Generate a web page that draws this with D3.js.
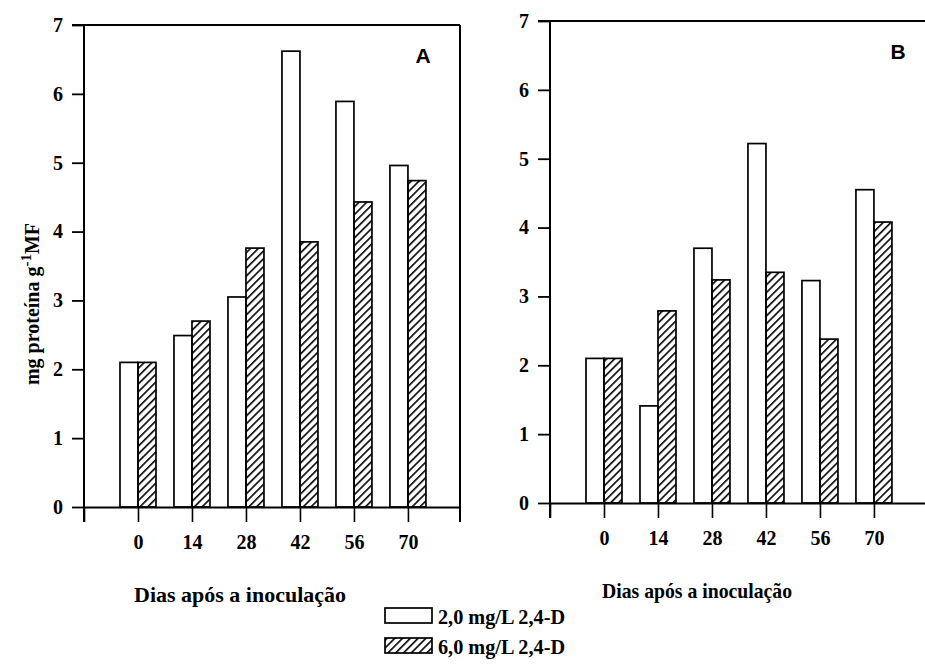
<!DOCTYPE html>
<html>
<head>
<meta charset="utf-8">
<script src="https://cdn.jsdelivr.net/npm/d3@7"></script>
<style>
  body { margin: 0; background: #fff; }
</style>
</head>
<body>
<div id="chart"></div>
<script>
// data
var days = [0, 14, 28, 42, 56, 70];
var seriesNames = ["2,0 mg/L 2,4-D", "6,0 mg/L 2,4-D"];
var panelA_low = [2.1, 2.49, 3.05, 6.62, 5.89, 4.96];
var panelA_high = [2.1, 2.7, 3.76, 3.85, 4.43, 4.74];
var panelB_low = [2.1, 1.41, 3.7, 5.22, 3.23, 4.55];
var panelB_high = [2.1, 2.79, 3.24, 3.35, 2.38, 4.08];
var yTicks = [0, 1, 2, 3, 4, 5, 6, 7];

var serif = "'Liberation Serif', 'DejaVu Serif', serif";

var svg = d3.select("#chart").append("svg")
  .attr("width", 925)
  .attr("height", 668);

// hatch pattern for the 6,0 mg/L bars
var defs = svg.append("defs");
defs.append("pattern")
  .attr("id", "hatch")
  .attr("patternUnits", "userSpaceOnUse")
  .attr("width", 5.5)
  .attr("height", 5.5)
  .attr("patternTransform", "rotate(45)")
  .append("line")
  .attr("x1", 0).attr("y1", 0)
  .attr("x2", 0).attr("y2", 5.5)
  .attr("stroke", "#000")
  .attr("stroke-width", 3.2);

function drawPanel(opts) {
  var x = d3.scaleLinear().domain([-14, 83.5]).range([opts.left, opts.right]);
  var y = d3.scaleLinear().domain([0, 7]).range([opts.bottom, opts.top]);
  var barW = 18;
  var g = svg.append("g");

  // bars
  var rows = days.map((d, i) => ({ day: d, low: opts.low[i], high: opts.high[i] }));
  g.selectAll(".low").data(rows).enter().append("rect")
    .attr("x", d => x(d.day) - barW)
    .attr("y", d => y(d.low))
    .attr("width", barW)
    .attr("height", d => y(0) - y(d.low))
    .attr("fill", "#fff")
    .attr("stroke", "#000")
    .attr("stroke-width", 1.7);
  g.selectAll(".high").data(rows).enter().append("rect")
    .attr("x", d => x(d.day))
    .attr("y", d => y(d.high))
    .attr("width", barW)
    .attr("height", d => y(0) - y(d.high))
    .attr("fill", "url(#hatch)")
    .attr("stroke", "#000")
    .attr("stroke-width", 1.7);

  // y axis
  var yAxis = d3.axisLeft(y).tickValues(yTicks).tickSize(12).tickSizeOuter(0)
    .tickPadding(9).tickFormat(d3.format("d"));
  var ya = g.append("g").attr("transform", `translate(${opts.left},0)`).call(yAxis);
  ya.select(".domain").remove();
  ya.selectAll("line").attr("stroke-width", 1.8);

  // x axis
  var xAxis = d3.axisBottom(x)
    .tickValues([-14].concat(days))
    .tickSize(15).tickSizeOuter(0).tickPadding(13)
    .tickFormat(d => d < 0 ? "" : d);
  var xa = g.append("g").attr("transform", `translate(0,${opts.bottom})`).call(xAxis);
  xa.select(".domain").attr("stroke-width", 1.8);
  xa.selectAll("line").attr("stroke-width", 1.6);

  g.selectAll(".tick text")
    .style("font-family", serif)
    .style("font-weight", "bold")
    .style("font-size", "20px");

  // frame lines
  g.append("line")
    .attr("x1", opts.left).attr("x2", opts.left)
    .attr("y1", y(7)).attr("y2", opts.bottom + 15)
    .attr("stroke", "#000").attr("stroke-width", 2);
  g.append("line")
    .attr("x1", opts.left - 12).attr("x2", opts.right)
    .attr("y1", y(7)).attr("y2", y(7))
    .attr("stroke", "#000").attr("stroke-width", 2);
  g.append("line")
    .attr("x1", opts.right).attr("x2", opts.right)
    .attr("y1", y(7)).attr("y2", opts.bottom + 15)
    .attr("stroke", "#000").attr("stroke-width", 2);

  // panel letter
  g.append("text")
    .attr("x", opts.letterX).attr("y", opts.top + 38)
    .style("font-family", "'Liberation Sans', Arial, sans-serif")
    .style("font-weight", "bold")
    .style("font-size", "21px")
    .attr("text-anchor", "middle")
    .text(opts.letter);

  // x axis title
  g.append("text")
    .attr("x", opts.titleX).attr("y", opts.titleY)
    .attr("text-anchor", "middle")
    .attr("textLength", opts.titleW)
    .attr("lengthAdjust", "spacingAndGlyphs")
    .style("font-family", serif)
    .style("font-weight", "bold")
    .style("font-size", "21px")
    .text("Dias após a inoculação");
}

drawPanel({ left: 84, right: 460, top: 25, bottom: 507, low: panelA_low, high: panelA_high,
  letter: "A", letterX: 423, titleX: 240, titleY: 602, titleW: 212 });
drawPanel({ left: 550, right: 926, top: 21, bottom: 503, low: panelB_low, high: panelB_high,
  letter: "B", letterX: 898, titleX: 697, titleY: 598, titleW: 190 });

// y axis title
var yTitle = svg.append("text")
  .attr("transform", "translate(39,304) rotate(-90)")
  .attr("text-anchor", "middle")
  .style("font-family", serif)
  .style("font-size", "20px")
  .style("font-weight", "bold");
yTitle.append("tspan").text("mg proteína g");
yTitle.append("tspan").attr("dy", -8).style("font-size", "15px").text("-1");
yTitle.append("tspan").attr("dy", 8).text("MF");

// legend
var legend = svg.append("g").attr("transform", "translate(385,608)");
legend.selectAll("rect").data(seriesNames).enter().append("rect")
  .attr("x", 0)
  .attr("y", (d, i) => i * 30)
  .attr("width", 47)
  .attr("height", 15)
  .attr("fill", (d, i) => i === 0 ? "#fff" : "url(#hatch)")
  .attr("stroke", "#000")
  .attr("stroke-width", 1.7);
legend.selectAll("text").data(seriesNames).enter().append("text")
  .attr("x", 53)
  .attr("y", (d, i) => i * 30 + 16)
  .attr("textLength", 127)
  .attr("lengthAdjust", "spacingAndGlyphs")
  .style("font-family", serif)
  .style("font-weight", "bold")
  .style("font-size", "20px")
  .text(d => d);
</script>
</body>
</html>
